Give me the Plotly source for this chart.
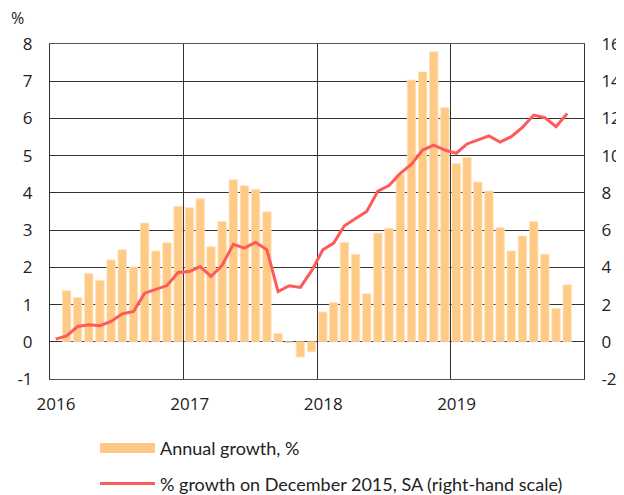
import pandas as pd
import plotly.graph_objects as go

# months Jan 2016 .. Nov 2019
months = pd.date_range("2016-01-01", periods=47, freq="MS").strftime("%Y-%m-%d").tolist()

# annual growth, % (left scale) - no value for Jan 2016
annual_growth = [
    None, 1.37, 1.19, 1.83, 1.65, 2.20, 2.47, 2.01, 3.19, 2.44, 2.66, 3.64,
    3.60, 3.84, 2.55, 3.23, 4.35, 4.19, 4.09, 3.49, 0.22, -0.03, -0.41, -0.27,
    0.80, 1.05, 2.67, 2.35, 1.29, 2.92, 3.05, 4.50, 7.03, 7.25, 7.79, 6.29,
    4.79, 4.95, 4.29, 4.05, 3.07, 2.44, 2.84, 3.23, 2.35, 0.89, 1.53,
]

# % growth on December 2015, SA (right scale)
growth_dec2015 = [
    0.14, 0.32, 0.82, 0.91, 0.86, 1.09, 1.50, 1.63, 2.61, 2.83, 3.02, 3.72,
    3.77, 4.04, 3.51, 4.11, 5.24, 5.03, 5.35, 4.94, 2.70, 3.01, 2.92, 3.81,
    4.94, 5.30, 6.23, 6.62, 7.00, 8.10, 8.39, 9.05, 9.54, 10.30, 10.57, 10.30,
    10.13, 10.63, 10.84, 11.06, 10.73, 11.02, 11.52, 12.18, 12.04, 11.56, 12.27,
]

year_ticks = ["2016-01-01", "2017-01-01", "2018-01-01", "2019-01-01"]
year_labels = ["2016", "2017", "2018", "2019"]

left_ticks = [-1, 0, 1, 2, 3, 4, 5, 6, 7, 8]
left_labels = ["-1", "0", "1", "2", "3", "4", "5", "6", "7", "8"]
right_ticks = [-2, 0, 2, 4, 6, 8, 10, 12, 14, 16]
right_labels = ["-2", "0", "2", "4", "6", "8", "10", "12", "14", "16"]

BAR = "#ffca85"
LINE = "#ff5a5a"
GRID = "#333333"

fig = go.Figure()

fig.add_trace(go.Bar(
    x=months, y=annual_growth,
    xperiod="M1", xperiodalignment="middle",
    marker=dict(color=BAR, line=dict(color="#ffe2bb", width=0.8)),
    showlegend=False,
))
fig.add_trace(go.Scatter(
    x=months, y=growth_dec2015, yaxis="y2",
    xperiod="M1", xperiodalignment="middle",
    mode="lines", line=dict(color=LINE, width=3),
    showlegend=False,
))

# legend-only entries (wide swatches like the original)
fig.add_trace(go.Scatter(
    x=[None], y=[None], mode="lines", name="Annual growth, %",
    line=dict(color=BAR, width=11), legendgroup="a",
))
fig.add_trace(go.Scatter(
    x=[None], y=[None], mode="lines", yaxis="y2",
    name="% growth on December 2015, SA (right-hand scale)",
    line=dict(color=LINE, width=3), legendgroup="b",
))

tick_font = dict(family="Open Sans", size=17, color="#222")

# page body has an 8px margin, so the figure is shifted 8px right/down;
# the figure is taller than the window so the legend never pushes the margin
fig.update_layout(
    width=616, height=520,
    paper_bgcolor="white", plot_bgcolor="white",
    margin=dict(l=42, r=40, t=36, b=149),
    bargap=0.22,
    showlegend=True,
    legend=dict(
        x=0.0843, y=-0.152, xanchor="left", yanchor="top",
        font=dict(family="Lato", size=18, color="#222"),
        itemwidth=55, traceorder="grouped", tracegroupgap=9,
        bgcolor="rgba(0,0,0,0)",
    ),
    xaxis=dict(
        type="date", range=["2016-01-01", "2020-01-01"],
        tickvals=year_ticks, ticktext=year_labels,
        showgrid=True, gridcolor=GRID, gridwidth=1,
        showline=True, linecolor="#555", mirror=True,
        ticks="", tickfont=tick_font, ticklabelshift=6, ticklabelstandoff=10,
        zeroline=False, automargin=False,
    ),
    yaxis=dict(
        range=[-1, 8], tickvals=left_ticks, ticktext=left_labels,
        showgrid=True, gridcolor=GRID, gridwidth=1,
        showline=True, linecolor="#333",
        zeroline=False, ticks="", automargin=False,
        tickfont=tick_font, ticklabelstandoff=13,
    ),
    yaxis2=dict(
        range=[-2, 16], tickvals=right_ticks, ticktext=right_labels,
        overlaying="y", side="right",
        showgrid=False, showline=True, linecolor="#333",
        zeroline=False, ticks="", automargin=False,
        tickfont=tick_font, ticklabelstandoff=13,
    ),
    annotations=[dict(
        text="%", xref="paper", yref="paper",
        x=-0.0775, y=1.078, xanchor="left", yanchor="middle",
        showarrow=False, font=dict(family="Open Sans", size=16, color="#222"),
    )],
)

fig.write_html("out.html")
